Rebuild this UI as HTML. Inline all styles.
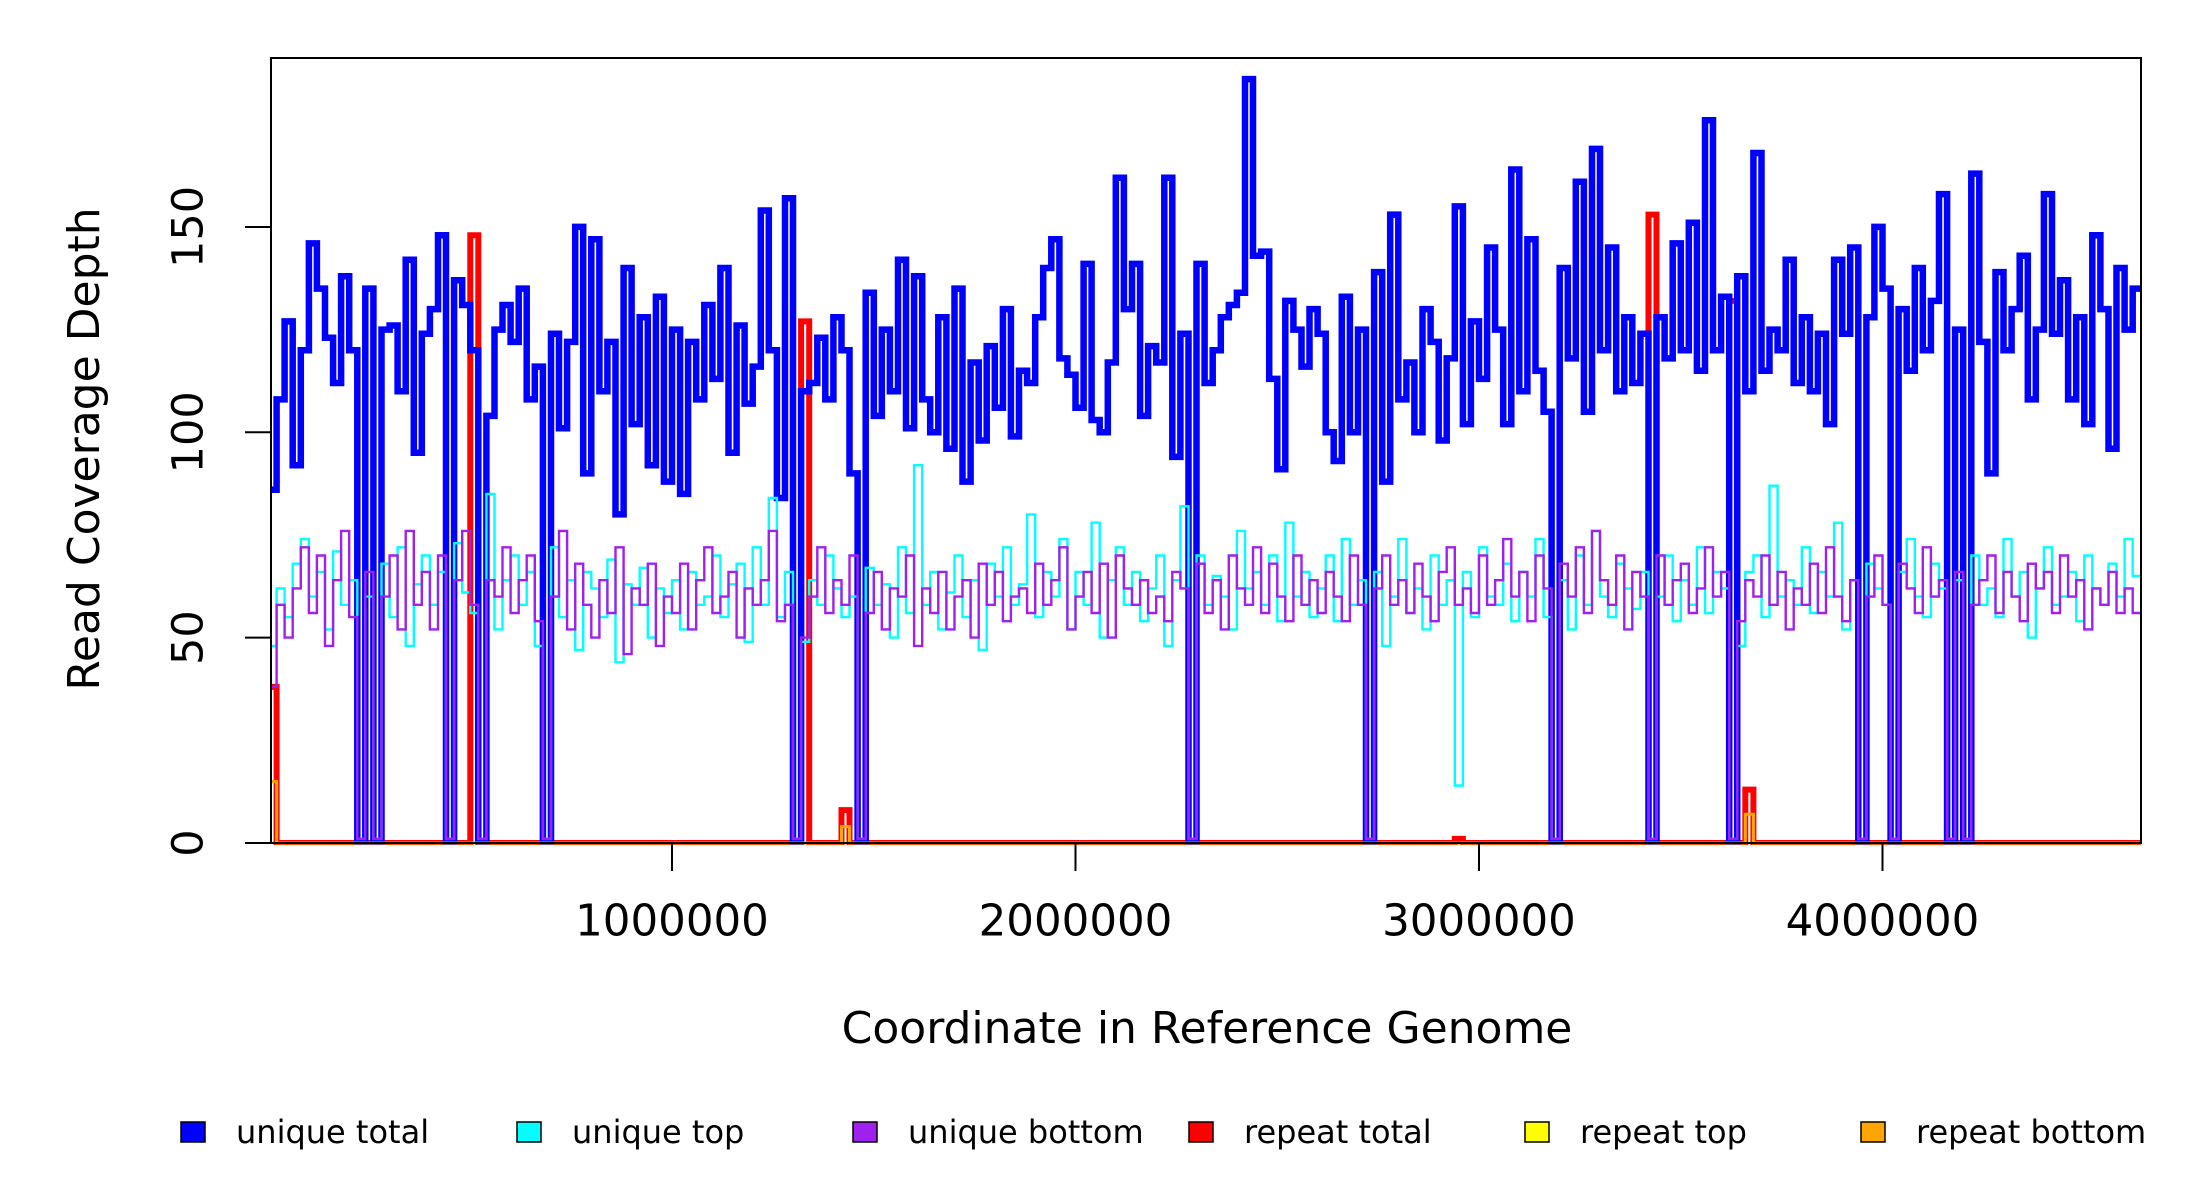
<!DOCTYPE html>
<html><head><meta charset="utf-8"><style>
html,body{margin:0;padding:0;background:#fff}
svg{display:block;font-family:"DejaVu Sans","Liberation Sans",sans-serif}
</style></head><body>
<svg id="chart" width="2200" height="1200" viewBox="0 0 2200 1200" xmlns="http://www.w3.org/2000/svg">
<defs><clipPath id="plotclip"><rect x="271" y="58" width="1870" height="787"/></clipPath></defs>
<rect width="2200" height="1200" fill="#fff"/>
<g id="series" clip-path="url(#plotclip)"></g>
<rect x="271" y="58" width="1870" height="785" fill="none" stroke="#000" stroke-width="2"/>
<g id="axes"></g>
<text x="87" y="449" transform="rotate(-90 87 449)" text-anchor="middle" dominant-baseline="middle" font-size="44">Read Coverage Depth</text>
<text x="1207" y="1031" text-anchor="middle" dominant-baseline="middle" font-size="44">Coordinate in Reference Genome</text>
<g id="legend"></g>
</svg>
<script>
const binSize = 20000;
const uniqueTotal = [86,108,127,92,120,146,135,123,112,138,
120,0,135,0,125,126,110,142,95,124,
130,148,0,137,131,120,0,104,125,131,
122,135,108,116,0,124,101,122,150,90,
147,110,122,80,140,102,128,92,133,88,
125,85,122,108,131,113,140,95,126,107,
116,154,120,84,157,0,110,112,123,108,
128,120,90,0,134,104,125,110,142,101,
138,108,100,128,96,135,88,117,98,121,
106,130,99,115,112,128,140,147,118,114,
106,141,103,100,117,162,130,141,104,121,
117,162,94,124,0,141,112,120,128,131,
134,186,143,144,113,91,132,125,116,130,
124,100,93,133,100,125,0,139,88,153,
108,117,100,130,122,98,118,155,102,127,
113,145,125,102,164,110,147,115,105,0,
140,118,161,105,169,120,145,110,128,112,
124,0,128,118,146,120,151,115,176,120,
133,0,138,110,168,115,125,120,142,112,
128,110,124,102,142,124,145,0,128,150,
135,0,130,115,140,120,132,158,0,125,
0,163,122,90,139,120,130,143,108,125,
158,124,137,108,128,102,148,130,96,140,
125,135];
const uniqueTop = [48,62,55,68,74,60,66,52,71,58,
64,1,60,1,68,55,72,48,63,70,
58,66,1,73,61,56,1,85,52,64,
70,58,66,48,1,72,55,64,47,66,
62,55,69,44,63,58,67,50,62,56,
64,52,66,58,60,70,55,63,68,49,
72,58,84,55,66,1,49,64,58,70,
62,55,60,1,67,58,63,50,72,56,
92,58,66,52,61,70,55,64,47,68,
60,72,58,63,80,55,66,60,74,52,
66,58,78,50,64,72,58,66,54,62,
70,48,64,82,1,70,58,65,60,52,
76,62,66,58,70,54,78,60,66,55,
62,70,54,74,58,64,1,66,48,60,
74,56,62,52,70,58,64,14,66,55,
72,60,58,68,54,66,60,74,55,1,
64,52,70,58,76,60,55,68,62,57,
66,1,60,70,54,64,58,72,56,66,
62,1,48,66,70,55,87,60,64,58,
72,56,66,60,78,52,64,1,68,62,
58,1,66,74,60,55,68,62,1,64,
1,70,58,62,55,74,60,66,50,62,
72,58,60,66,54,70,62,58,68,60,
74,65];
const uniqueBottom = [38,58,50,62,72,56,70,48,64,76,
55,1,66,1,60,70,52,76,58,66,
52,70,1,64,76,58,1,64,60,72,
56,64,70,54,1,60,76,52,68,58,
50,64,56,72,46,62,58,68,48,60,
56,68,52,64,72,56,60,66,50,62,
58,64,76,54,58,1,50,60,72,56,
64,58,70,1,56,66,52,62,60,70,
48,62,56,66,52,60,64,50,68,58,
66,54,60,62,56,68,58,64,72,52,
60,66,56,68,50,70,62,58,64,56,
60,54,66,62,1,68,56,64,52,70,
62,58,72,56,68,60,54,70,58,64,
56,66,60,54,70,58,1,62,70,58,
64,56,68,60,54,66,72,58,62,56,
70,58,64,74,60,66,54,70,62,1,
68,60,72,56,76,64,58,70,52,66,
60,1,70,58,64,68,56,62,72,60,
66,1,54,64,60,70,58,66,52,62,
58,68,56,72,60,54,64,1,60,70,
58,1,68,62,56,72,60,64,1,66,
1,58,64,70,56,66,60,54,68,62,
66,56,70,60,64,52,62,58,66,56,
62,56];
const repeatTotalBins = [0,25,66,71,147,171,181,183];
const repeatTotalVals = [38,148,127,8,1,153,132,13];
const repeatBottomBins = [0,71,183];
const repeatBottomVals = [15,4,7];
const yTicks = [0,50,100,150];
const xTicks = [1000000,2000000,3000000,4000000];
const xTickLabels = ["1000000","2000000","3000000","4000000"];
const legendLabels = ["unique total","unique top","unique bottom","repeat total","repeat top","repeat bottom"];
const legendColors = ["#0000ff","#00ffff","#a020f0","#ff0000","#ffff00","#ffa500"];

const NS = "http://www.w3.org/2000/svg";
const X0 = 268.5, XPER = 403.5/1e6;
const Y0 = 843, YPER = 4.107;
function xs(v){return X0 + v*XPER;}
function ys(v){return Y0 - v*YPER;}
const nBins = uniqueTotal.length;
function expand(bins, vals){const a=new Array(nBins).fill(0);bins.forEach((b,i)=>{a[b]=vals[i];});return a;}
function stepPath(arr){
  let d = "";
  for(let i=0;i<arr.length;i++){
    const xa=xs(i*binSize), xb=xs((i+1)*binSize), y=ys(arr[i]);
    d += (i===0?"M":"L")+xa.toFixed(1)+","+y.toFixed(1)+"L"+xb.toFixed(1)+","+y.toFixed(1);
  }
  return d;
}
const g = document.getElementById("series");
function addSeries(arr,color,w,name){
  const p=document.createElementNS(NS,"path");
  p.setAttribute("d",stepPath(arr));
  p.setAttribute("fill","none");
  p.setAttribute("stroke",color);
  p.setAttribute("stroke-width",w);
  p.setAttribute("stroke-linejoin","miter");
  
  
  g.appendChild(p);
}
addSeries(expand(repeatTotalBins,repeatTotalVals),"#ff0000",6,"repeat-total-line");
addSeries(uniqueTotal,"#0000ff",6.5,"unique-total-line");
addSeries(uniqueTop,"#00ffff",2.4,"unique-top-line");
addSeries(uniqueBottom,"#a020f0",2.4,"unique-bottom-line");
addSeries(new Array(nBins).fill(0),"#ffff00",2,"repeat-top-line");
addSeries(expand(repeatBottomBins,repeatBottomVals),"#ffa500",3,"repeat-bottom-line");

const ax = document.getElementById("axes");
yTicks.forEach(v=>{
  const l=document.createElementNS(NS,"line");
  l.setAttribute("x1",245);l.setAttribute("x2",271);
  l.setAttribute("y1",ys(v));l.setAttribute("y2",ys(v));
  l.setAttribute("stroke","#000");l.setAttribute("stroke-width",2);
  
  
  ax.appendChild(l);
  const t=document.createElementNS(NS,"text");
  const yy=ys(v);
  t.setAttribute("x",191);t.setAttribute("y",yy);
  t.setAttribute("transform","rotate(-90 191 "+yy+")");
  t.setAttribute("text-anchor","middle");t.setAttribute("dominant-baseline","middle");
  t.setAttribute("font-size","43");
  t.textContent=String(v);
  
  
  ax.appendChild(t);
});
xTicks.forEach((v,i)=>{
  const l=document.createElementNS(NS,"line");
  l.setAttribute("x1",xs(v));l.setAttribute("x2",xs(v));
  l.setAttribute("y1",843);l.setAttribute("y2",871);
  l.setAttribute("stroke","#000");l.setAttribute("stroke-width",2);
  
  
  ax.appendChild(l);
  const t=document.createElementNS(NS,"text");
  t.setAttribute("x",xs(v));t.setAttribute("y",924);
  t.setAttribute("text-anchor","middle");t.setAttribute("dominant-baseline","middle");
  t.setAttribute("font-size","43.5");
  t.textContent=xTickLabels[i];
  
  
  ax.appendChild(t);
});
const lg=document.getElementById("legend");
legendLabels.forEach((lab,i)=>{
  const bx=181+i*336;
  const r=document.createElementNS(NS,"rect");
  r.setAttribute("x",bx);r.setAttribute("y",1122);r.setAttribute("width",24);r.setAttribute("height",20);
  r.setAttribute("fill",legendColors[i]);r.setAttribute("stroke","#000");r.setAttribute("stroke-width",1.5);
  
  
  lg.appendChild(r);
  const t=document.createElementNS(NS,"text");
  t.setAttribute("x",bx+55);t.setAttribute("y",1134);
  t.setAttribute("dominant-baseline","middle");t.setAttribute("font-size","32");
  t.textContent=lab;
  
  
  lg.appendChild(t);
});
</script>
</body></html>
